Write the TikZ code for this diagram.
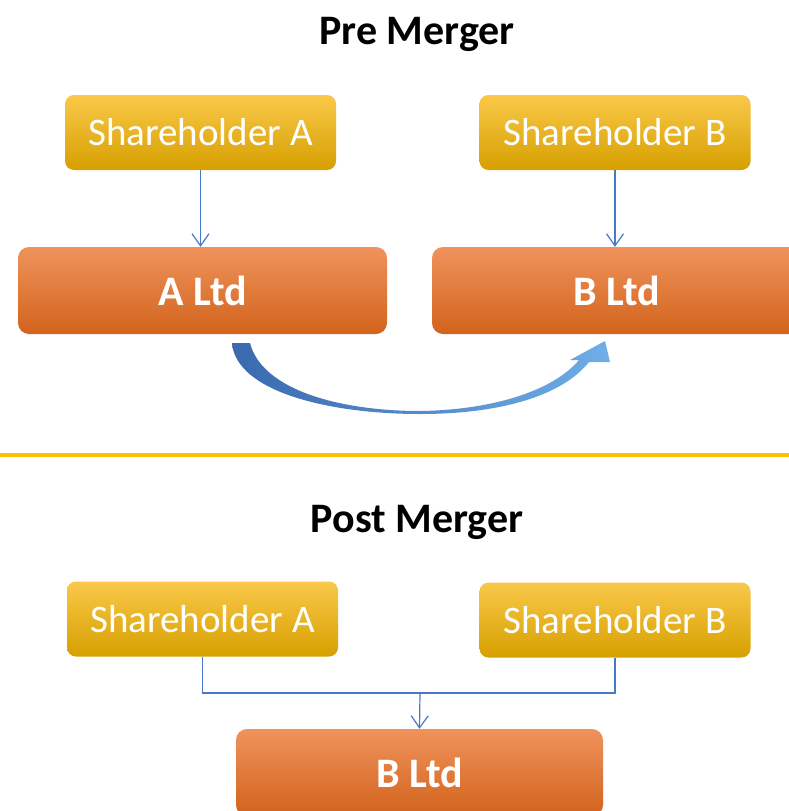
\documentclass[tikz,border=0pt]{standalone}
\usepackage{fontspec}
\setmainfont{Carlito}
\usetikzlibrary{arrows.meta}
\definecolor{goldtop}{HTML}{FAC84A}
\definecolor{goldbot}{HTML}{D6A000}
\definecolor{orgtop}{HTML}{EF935C}
\definecolor{orgbot}{HTML}{D2631C}
\definecolor{linkblue}{HTML}{4A78C8}
\definecolor{swdark}{HTML}{3A69AE}
\definecolor{swlight}{HTML}{6FAEE8}
\definecolor{rule}{HTML}{FFC000}
\tikzset{
  holder/.style={rectangle, rounded corners=9pt, minimum width=271pt, minimum height=75pt,
    top color=goldtop, bottom color=goldbot, draw=none, text=white,
    font=\fontsize{39}{44}\selectfont},
  company/.style={rectangle, rounded corners=11pt, minimum width=369pt, minimum height=87pt,
    top color=orgtop, bottom color=orgbot, draw=none, text=white,
    font=\fontsize{42}{48}\selectfont\bfseries},
  heading/.style={font=\fontsize{42}{48}\selectfont\bfseries, text=black},
  link/.style={draw=linkblue, line width=1.2pt},
  linkarrow/.style={link, -{Straight Barb[length=12pt,width=17pt,line width=1.2pt]}}
}
\begin{document}
\begin{tikzpicture}[x=1pt,y=-1pt]
\useasboundingbox (0,0) rectangle (789,811);
\clip (0,0) rectangle (789,811);
\fill[white] (0,0) rectangle (789,811);

% Before the merger
\node[heading] (pre) at (417,34) {Pre Merger};
\node[holder] (sa1) at (200.5,132.5) {Shareholder A};
\node[holder] (sb1) at (615,132.5) {Shareholder B};
\node[company] (altd) at (202.5,290.5) {A Ltd};
\node[company] (bltd1) at (616.5,290.5) {B Ltd};
\draw[linkarrow] (sa1.south) -- (altd.north -| sa1.south);
\draw[linkarrow] (sb1.south) -- (bltd1.north -| sb1.south);

% Sweeping arrow from A Ltd over to B Ltd
\shade[left color=swdark, right color=swlight, middle color=swdark!50!swlight]
  (232,343) .. controls (236,392) and (330,414) .. (420,414)
  .. controls (500,414) and (562,396) .. (589,362)
  -- (610,362) -- (605,341) -- (570,360) -- (579,360)
  .. controls (552,392) and (490,410) .. (420,411)
  .. controls (340,411) and (262,390) .. (250,343) -- cycle;

% Separator
\draw[rule, line width=3.5pt] (0,455) -- (789,455);

% After the merger
\node[heading] (post) at (417,522) {Post Merger};
\node[holder] (sa2) at (202.5,619) {Shareholder A};
\node[holder] (sb2) at (615,620) {Shareholder B};
\node[company, minimum width=367pt] (bltd2) at (419.5,772.5) {B Ltd};
\coordinate (join) at (420,693);
\draw[link] (sa2.south) |- (join) -| (sb2.south);
\draw[linkarrow] (join) -- (bltd2.north);
\end{tikzpicture}
\end{document}
